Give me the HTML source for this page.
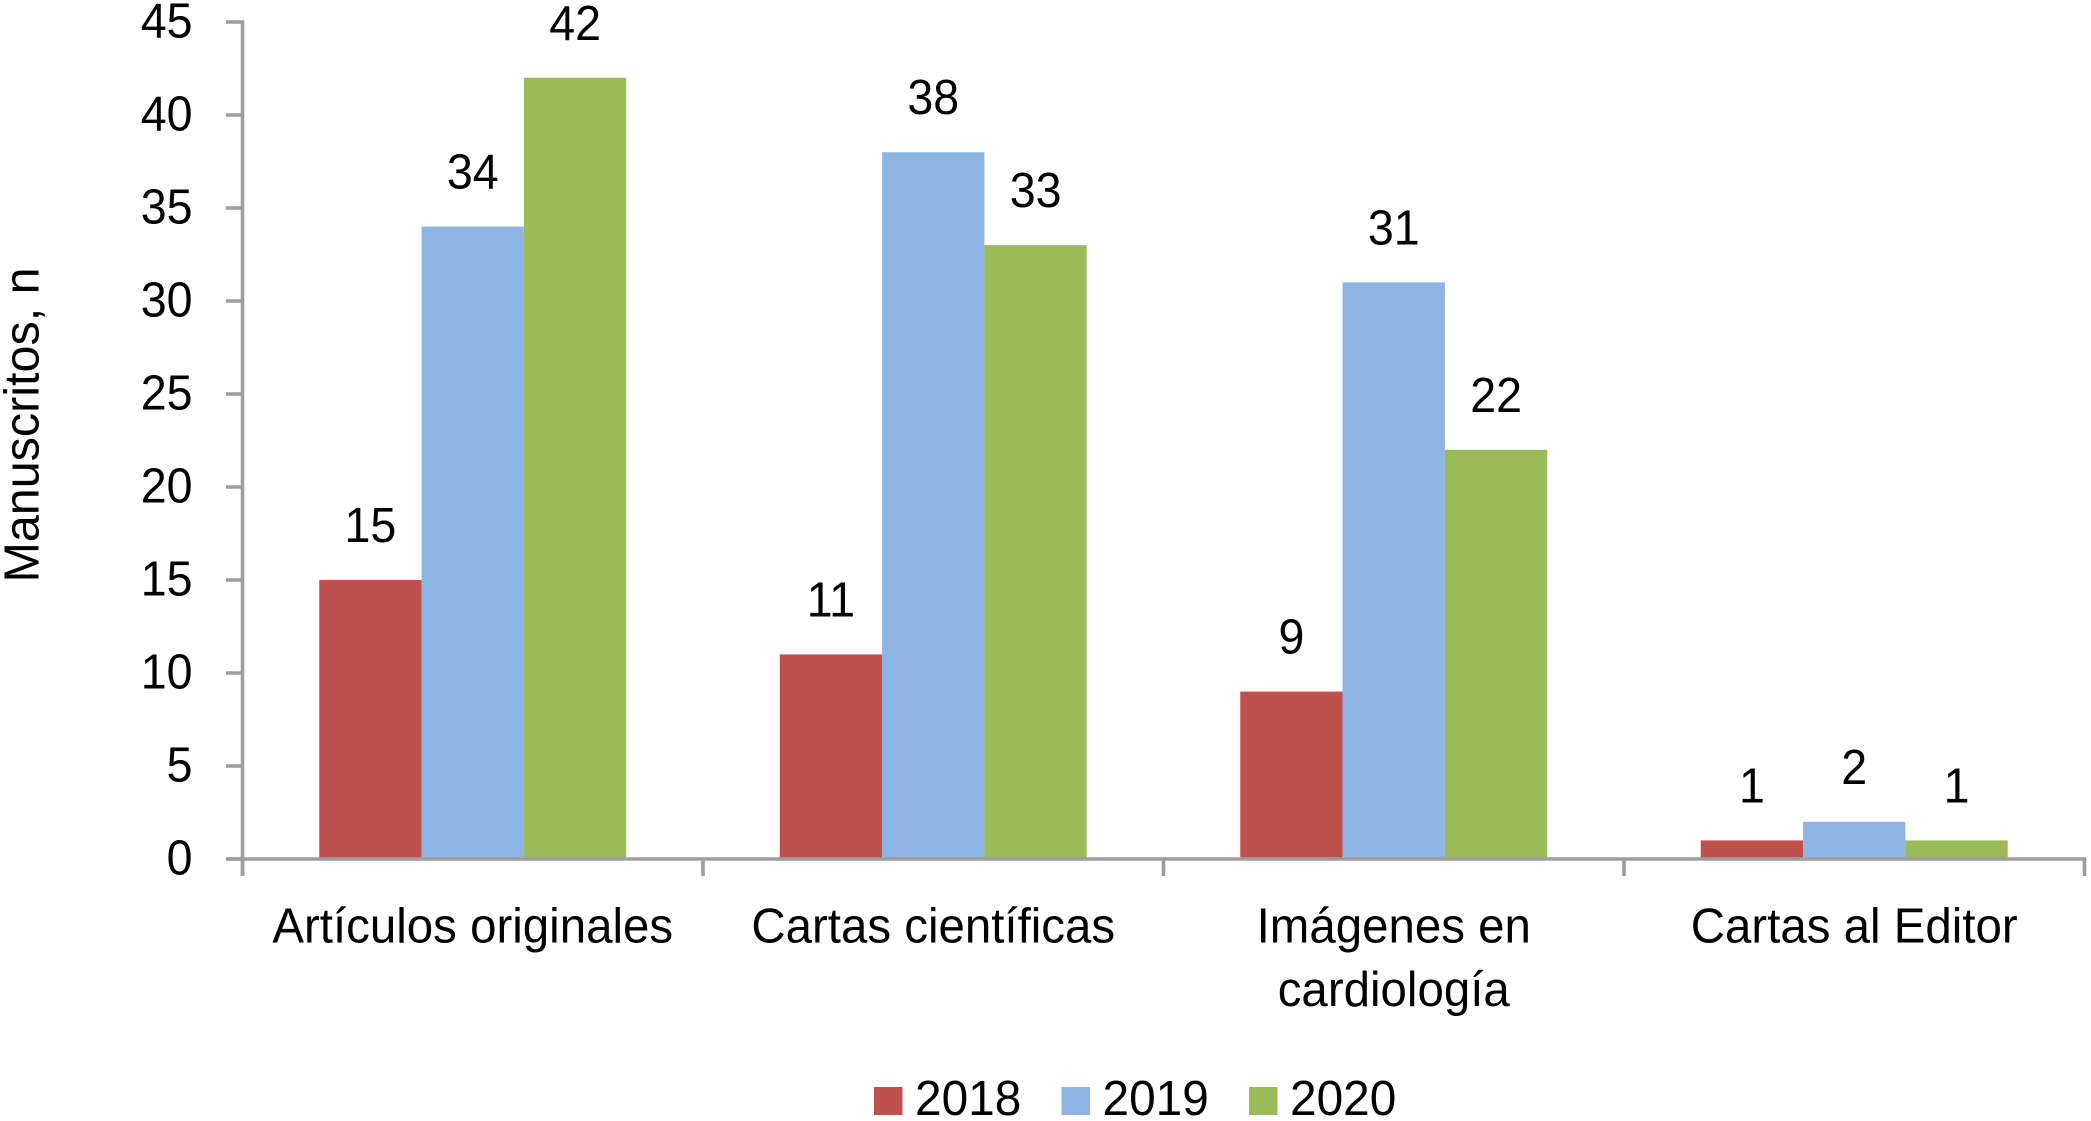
<!DOCTYPE html>
<html lang="es">
<head>
<meta charset="utf-8">
<title>Manuscritos por tipo y año</title>
<style>
html,body{margin:0;padding:0;background:#fff;width:2091px;height:1121px;overflow:hidden}
svg{display:block}
text{font-family:"Liberation Sans",sans-serif;font-size:49px;fill:#000}
</style>
</head>
<body>
<svg id="chart" xmlns="http://www.w3.org/2000/svg" width="2091" height="1121" viewBox="0 0 2091 1121"></svg>
<script>
const categories = ["Artículos originales", "Cartas científicas", "Imágenes en|cardiología", "Cartas al Editor"];
const seriesNames = ["2018", "2019", "2020"];
const values2018 = [15, 11, 9, 1];
const values2019 = [34, 38, 31, 2];
const values2020 = [42, 33, 22, 1];
const yTicks = [0, 5, 10, 15, 20, 25, 30, 35, 40, 45];
const yAxisTitle = "Manuscritos, n";

const seriesValues = [values2018, values2019, values2020];
const colors = ["#C0504D", "#8EB4E3", "#9BBB59"];
const axisColor = "#9E9E9E";
const svg = document.getElementById("chart");
const NS = "http://www.w3.org/2000/svg";

const plotLeft = 242.5, plotRight = 2084.5, plotBottom = 859, plotTop = 22, yMax = 45;
const groupWidth = (plotRight - plotLeft) / categories.length;
const barWidth = groupWidth / (seriesNames.length + 1.5);

function yScale(v) { return plotBottom - (v / yMax) * (plotBottom - plotTop); }
function xGroupStart(i) { return plotLeft + i * groupWidth; }
function xBar(i, s) { return xGroupStart(i) + groupWidth / 2 - barWidth * seriesNames.length / 2 + s * barWidth; }

function make(tag, attrs, parent) {
  const el = document.createElementNS(NS, tag);
  for (const k in attrs) el.setAttribute(k, attrs[k]);
  (parent || svg).appendChild(el);
  return el;
}
function makeText(str, attrs, stretch, parent) {
  const el = make("text", attrs, parent);
  el.textContent = str;
  const len = el.getComputedTextLength();
  el.setAttribute("textLength", (len * stretch).toFixed(2));
  el.setAttribute("lengthAdjust", "spacingAndGlyphs");
  return el;
}

/* bars and value labels */
seriesNames.forEach(function (name, s) {
  seriesValues[s].forEach(function (v, i) {
    const y = yScale(v);
    const bar = make("rect", { x: xBar(i, s), y: y, width: barWidth, height: plotBottom - y, fill: colors[s] });
    
    
    const lab = makeText(String(v), { x: xBar(i, s) + barWidth / 2, y: y - 38, "text-anchor": "middle" }, 0.95);
    
    
  });
});

/* y axis */
const yLine = make("line", { x1: plotLeft, x2: plotLeft, y1: plotTop - 1.7, y2: plotBottom + 17, stroke: axisColor, "stroke-width": 3.6 });


yTicks.forEach(function (t) {
  const y = yScale(t);
  const tick = make("line", { x1: plotLeft - 16.5, x2: plotLeft, y1: y, y2: y, stroke: axisColor, "stroke-width": 3.6 });
  
  
  const lab = makeText(String(t), { x: 192.5, y: y + 15.5, "text-anchor": "end" }, 0.95);
  
  
});

/* x axis */
const xLine = make("line", { x1: plotLeft - 16.5, x2: plotRight + 1.7, y1: plotBottom, y2: plotBottom, stroke: axisColor, "stroke-width": 3.6 });


for (let i = 0; i <= categories.length; i++) {
  const x = xGroupStart(i);
  const tick = make("line", { x1: x, x2: x, y1: plotBottom, y2: plotBottom + 17, stroke: axisColor, "stroke-width": 3.6 });
  
  
}
categories.forEach(function (c, i) {
  c.split("|").forEach(function (line, j) {
    const lab = makeText(line, { x: xGroupStart(i) + groupWidth / 2, y: 942.5 + j * 63.5, "text-anchor": "middle" }, 0.968);
    
    
  });
});

/* y axis title */
const title = makeText(yAxisTitle, { x: 0, y: 0, "text-anchor": "middle", transform: "translate(38.5 425) rotate(-90)" }, 0.989);



/* legend */
const legendStart = 874, legendStep = 187.5;
seriesNames.forEach(function (name, s) {
  const x = legendStart + s * legendStep;
  const sw = make("rect", { x: x, y: 1087, width: 28.5, height: 28, fill: colors[s] });
  
  
  const lab = makeText(name, { x: x + 41, y: 1115 }, 0.975);
  
  
});
</script>
</body>
</html>
